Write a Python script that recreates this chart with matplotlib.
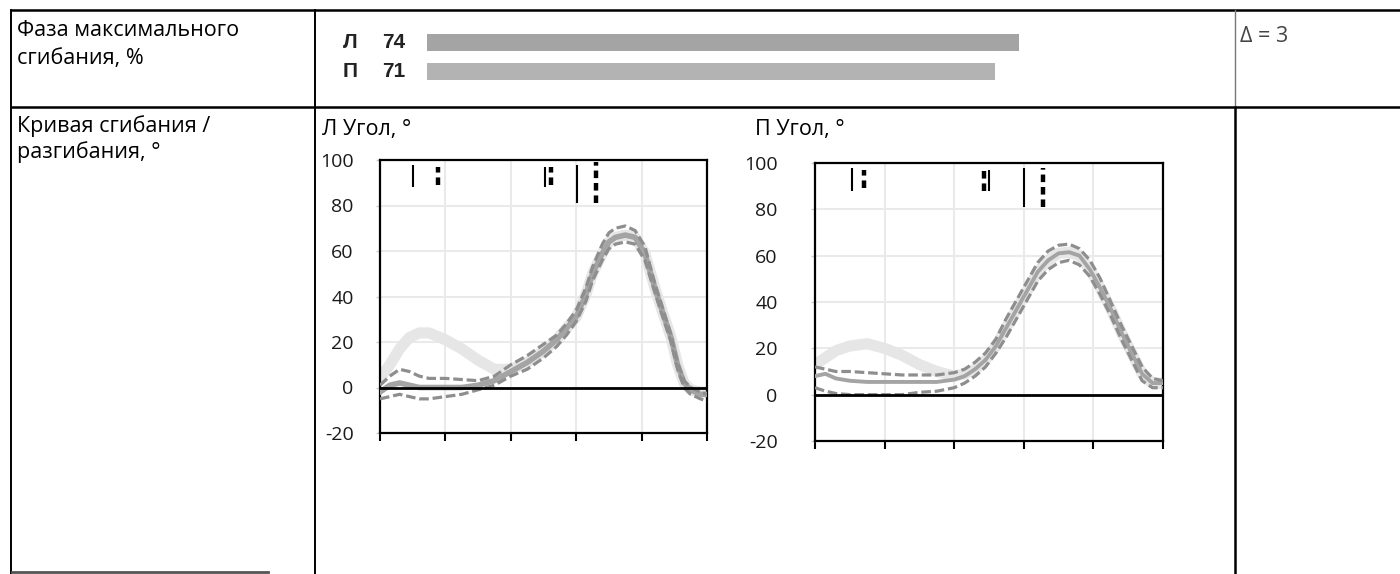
import matplotlib
matplotlib.use("Agg")
import matplotlib.pyplot as plt

W, H = 1400, 574
plt.rcParams['font.family'] = ['Open Sans', 'DejaVu Sans']
plt.rcParams['axes.unicode_minus'] = False

# ---------------- data ----------------
row_labels = ["Фаза максимального\nсгибания, %", "Кривая сгибания /\nразгибания, °"]
bar_sides = ["Л", "П"]
bar_values = [74, 71]
delta_text = "Δ = 3"

y_ticks = [-20, 0, 20, 40, 60, 80, 100]
x_ticks = [0, 20, 40, 60, 80, 100]

# Left (Л) knee angle
xl = [0, 3, 6, 9, 12, 15, 20, 25, 30, 35, 40, 45, 50, 54, 57, 60, 63, 65, 68, 70, 72, 75, 78, 81, 84, 86, 89, 91, 93, 95, 98, 100]
l_mean = [-2, 1, 2, 1, 0, 0, 0, 0, 1, 3, 7, 11, 16, 21, 26, 31, 41, 50, 59, 64, 66, 67, 66, 59, 44, 35, 22, 10, 2, -1, -3, -3]
l_upper = [1, 5, 8, 7, 5, 4, 4, 3.5, 3, 5, 10, 14, 19, 23, 28, 34, 44, 53, 63, 68, 70, 71, 69, 62, 46, 37, 23, 11, 3, 0, -2, -3]
l_lower = [-5, -4, -3, -4, -5, -5, -4, -3, -1, 1, 5, 8, 13, 18, 23, 29, 38, 47, 56, 61, 63, 64, 63, 56, 42, 33, 20, 8, 0, -3, -5, -6]
l_norm = [4, 10, 17, 22, 24, 24, 21, 17, 12, 8, 8, 11, 16, 21, 26, 31, 41, 50, 59, 64, 66, 67, 66, 59, 44, 35, 22, 10, 2, -1, -2, -2]
l_events_solid = [10.2, 50.5, 60.2]
l_events_solid_top = [98, 97, 98]
l_events_solid_bot = [88, 88, 81]
l_events_dot = [17.6, 52.2, 66.0]
l_events_dot_top = [97, 97, 99]
l_events_dot_bot = [89, 89, 81]

# Right (П) knee angle
xr = [0, 3, 6, 10, 15, 20, 25, 30, 35, 40, 43, 46, 49, 52, 55, 58, 61, 64, 67, 70, 73, 76, 79, 82, 85, 88, 91, 94, 97, 100]
r_mean = [8, 9, 7, 6, 5.5, 5.5, 5.5, 5.5, 5.5, 6.5, 8, 11, 15, 21, 29, 37, 45, 53, 58, 61, 61.5, 60, 54, 46, 37, 27, 18, 9, 5, 5]
r_upper = [12, 11, 10, 10, 9.5, 9, 8.5, 8.5, 8.5, 9.5, 11, 14, 18, 24, 33, 41, 49, 57, 62, 64.5, 65, 63, 58, 50, 40, 30, 21, 12, 7, 6]
r_lower = [3, 1.5, 0.5, 0, 0, 0, 0, 1, 1.5, 3, 5, 8, 12, 18, 25, 33, 41, 49, 54, 57, 58, 56, 51, 43, 34, 24, 15, 6, 3, 3]
r_norm = [13, 16, 19, 21, 22, 20, 17, 13, 10, 8, 9, 11, 15, 21, 29, 37, 45, 53, 58, 61, 61.5, 60, 54, 46, 37, 27, 18, 9, 5, 5]
r_events_solid = [10.5, 50.0, 60.0]
r_events_solid_top = [98, 97, 98]
r_events_solid_bot = [88, 88, 81]
r_events_dot = [14.2, 48.5, 65.5]
r_events_dot_top = [97, 97, 98]
r_events_dot_bot = [89, 88, 81]

chart_titles = ["Л Угол, °", "П Угол, °"]


def rect(x0, y0, x1, y1):
    return [x0 / W, 1 - y1 / H, (x1 - x0) / W, (y1 - y0) / H]


fig = plt.figure(figsize=(W / 100, H / 100), dpi=100)

# ---------------- table frame ----------------
bg = fig.add_axes([0, 0, 1, 1])
bg.set_xlim(0, W)
bg.set_ylim(H, 0)
bg.axis('off')

bg.plot([12, W], [10, 10], color='black', lw=1.8)
bg.plot([12, W], [107, 107], color='black', lw=1.8)
bg.plot([11, 11], [10, H], color='black', lw=1.4)
bg.plot([315, 315], [10, H], color='black', lw=1.4)
bg.plot([1235, 1235], [10, 107], color='#777777', lw=1.0)
bg.plot([1235, 1235], [107, H], color='black', lw=1.8)
bg.plot([12, 268], [572, 572], color='#555555', lw=2)

lab_fs = 15.5
bg.text(17, 36, row_labels[0].split("\n")[0], fontsize=lab_fs, va='baseline', ha='left')
bg.text(17, 64, row_labels[0].split("\n")[1], fontsize=lab_fs, va='baseline', ha='left')
bg.text(17, 132, row_labels[1].split("\n")[0], fontsize=lab_fs, va='baseline', ha='left')
bg.text(17, 158, row_labels[1].split("\n")[1], fontsize=lab_fs, va='baseline', ha='left')

bg.text(1240, 42, delta_text, fontsize=15.5, va='baseline', ha='left', color='#444444')

bg.text(322, 135, chart_titles[0], fontsize=15.5, va='baseline', ha='left')
bg.text(755, 135, chart_titles[1], fontsize=15.5, va='baseline', ha='left')

# ---------------- bars ----------------
axb = fig.add_axes(rect(427, 28, 1227, 86))
axb.set_xlim(0, 100)
axb.set_ylim(1.5, -0.5)
axb.axis('off')
bar_colors = ['#a4a4a4', '#b3b3b3']
axb.barh(range(len(bar_values)), bar_values, height=0.58, color=bar_colors, left=0)
bar_font = ['Liberation Sans Narrow', 'Liberation Sans', 'DejaVu Sans']
for i, (s, v) in enumerate(zip(bar_sides, bar_values)):
    axb.text(-9.6, i, s, fontsize=15, ha='center', va='center', color='#222222',
             family=bar_font, weight='bold', clip_on=False)
    axb.text(-4.2, i, str(v), fontsize=15, ha='center', va='center', color='#222222',
             family=bar_font, weight='bold', clip_on=False)


# ---------------- charts ----------------
def draw_chart(box, x, mean, up, lo, norm, es, est, esb, ed, edt, edb, pad, mean_lw):
    ax = fig.add_axes(rect(*box))
    ax.set_xlim(0, 100)
    ax.set_ylim(-20, 100)
    ax.set_yticks(y_ticks)
    ax.set_xticks(x_ticks)
    ax.set_xticklabels([])
    ax.grid(True, color='#eaeaea', lw=1.5)
    ax.set_axisbelow(True)
    for sp in ax.spines.values():
        sp.set_linewidth(1.6)
        sp.set_color('black')
    ax.tick_params(axis='x', direction='out', length=6, width=1.5, color='black')
    ax.tick_params(axis='y', direction='out', length=3, width=1, color='#cccccc',
                   pad=pad, labelsize=14, labelcolor='#1a1a1a')
    ax.plot(x, norm, color='#e6e6e6', lw=8, solid_capstyle='round', zorder=2)
    ax.plot(x, mean, color='#a4a4a4', lw=mean_lw, zorder=3)
    ax.plot(x, up, color='#8e8e8e', lw=2.3, ls=(0, (3, 1.2)), zorder=4)
    ax.plot(x, lo, color='#8e8e8e', lw=2.3, ls=(0, (3, 1.2)), zorder=4)
    ax.axhline(0, color='black', lw=2, zorder=5)
    ax.vlines(es, esb, est, color='black', lw=1.5, zorder=6)
    ax.vlines(ed, edb, edt, color='black', lw=3.2, linestyles=[(0, (1.7, 1.1))], zorder=6)
    return ax


draw_chart((380, 160, 707, 433), xl, l_mean, l_upper, l_lower, l_norm,
           l_events_solid, l_events_solid_top, l_events_solid_bot,
           l_events_dot, l_events_dot_top, l_events_dot_bot, pad=16, mean_lw=4)
draw_chart((815, 163, 1163, 441), xr, r_mean, r_upper, r_lower, r_norm,
           r_events_solid, r_events_solid_top, r_events_solid_bot,
           r_events_dot, r_events_dot_top, r_events_dot_bot, pad=24, mean_lw=2.8)

fig.savefig("out.png", dpi=100)
